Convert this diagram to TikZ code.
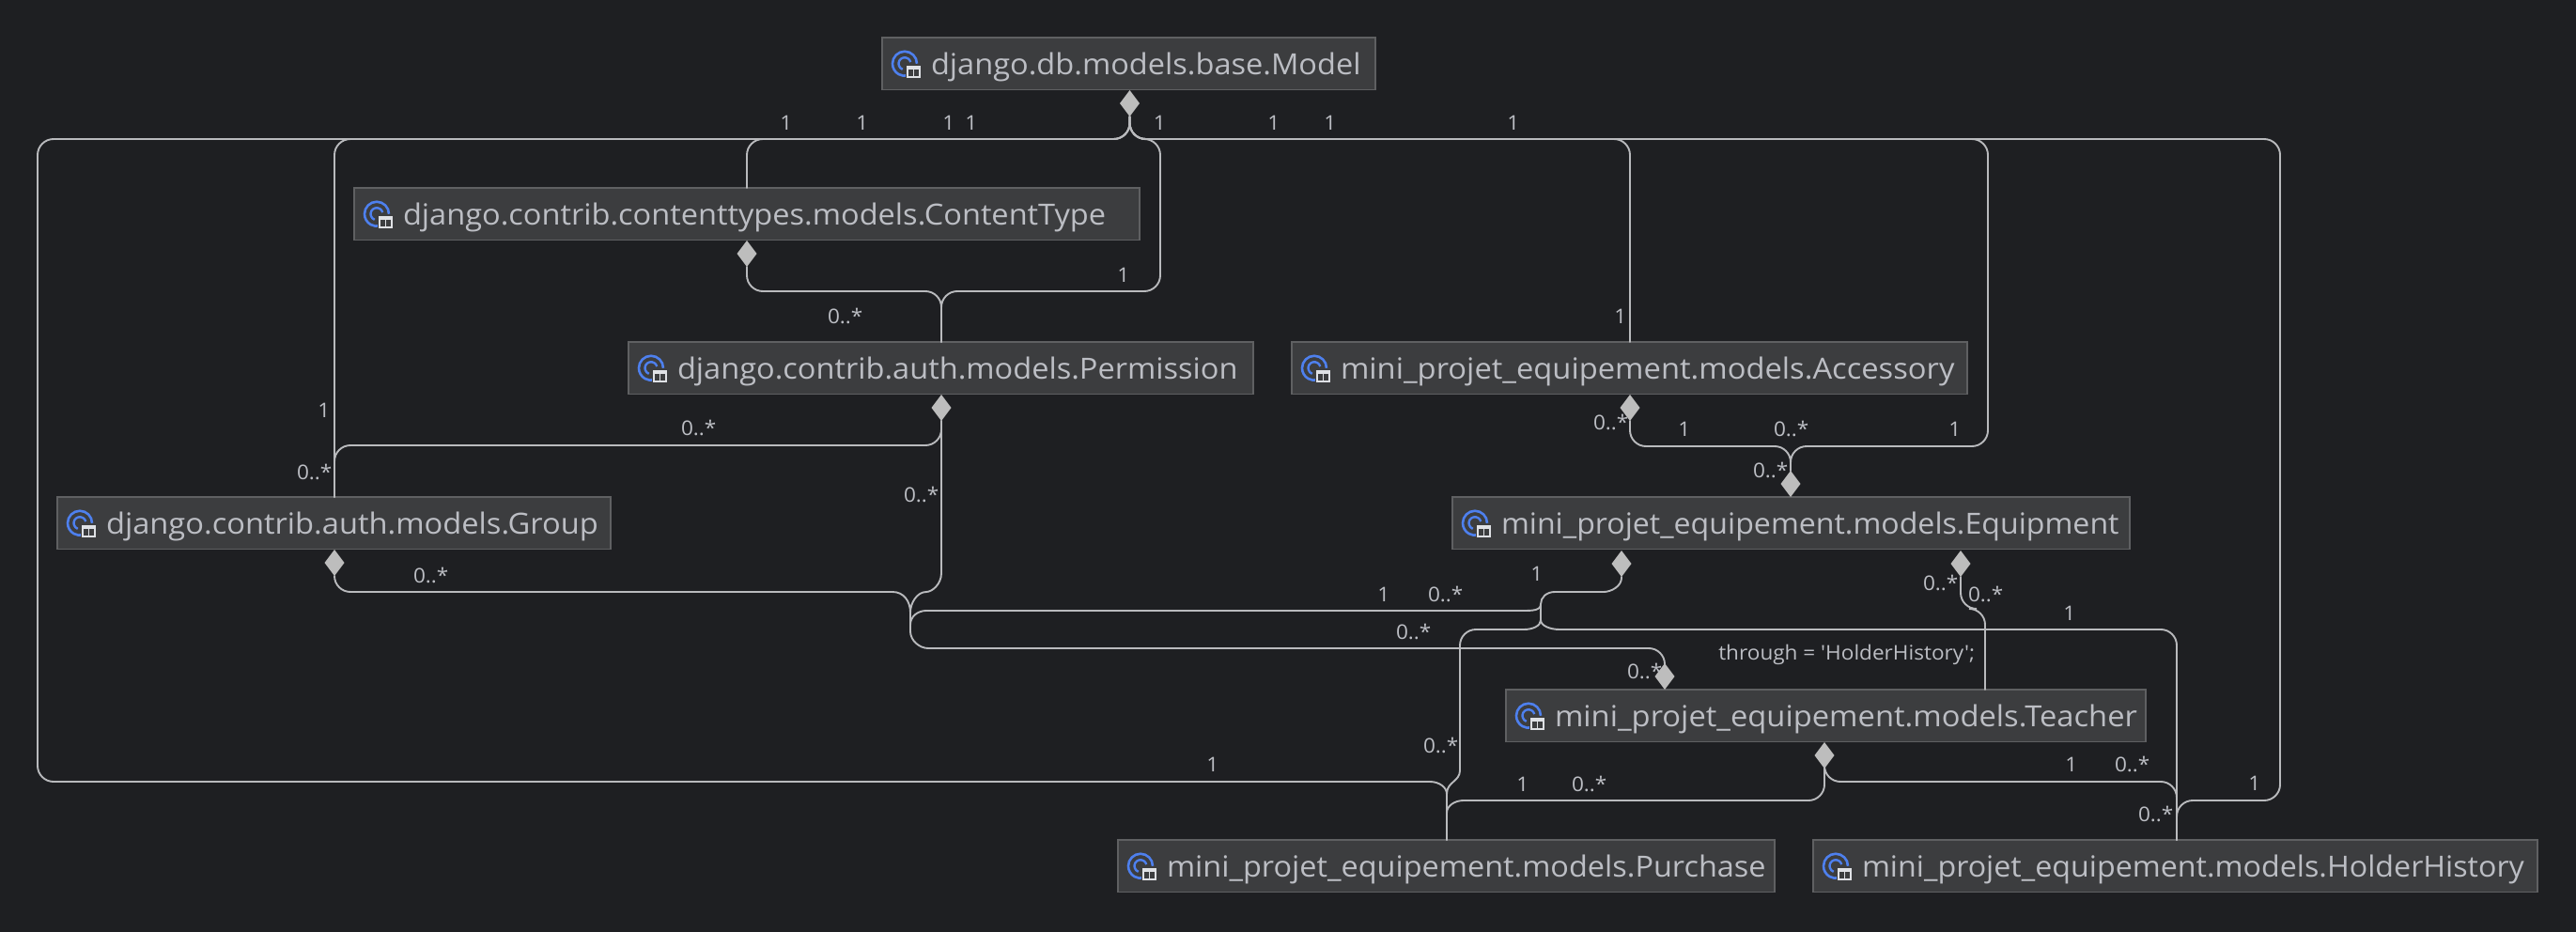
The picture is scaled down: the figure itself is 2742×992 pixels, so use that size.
\documentclass[tikz,border=0pt]{standalone}
\usepackage{fontspec}
\setmainfont{Open Sans}
\newfontfamily\clsfont[FakeStretch=1.05]{Open Sans}
\usetikzlibrary{shapes.geometric}
\definecolor{bgc}{HTML}{1E1F22}
\definecolor{boxc}{HTML}{3C3D3F}
\definecolor{edgec}{HTML}{5F6062}
\definecolor{linec}{HTML}{B9BABD}
\definecolor{txtc}{HTML}{BCBEC4}
\definecolor{diac}{HTML}{BDBDBD}
\definecolor{iconb}{HTML}{4E80EE}
\definecolor{iconw}{HTML}{DFE1E5}
\tikzset{
  cls/.style={draw=edgec,line width=1.5pt,fill=boxc,inner sep=0pt,outer sep=0pt,anchor=north west,text=txtc,minimum height=55.5pt},
  dia/.style={diamond,aspect=0.74,fill=diac,inner sep=0pt,outer sep=0pt,minimum width=21pt,minimum height=28pt},
  wire/.style={draw=linec,line width=1.9pt,line cap=round},
  conn/.style={wire,rounded corners=17pt},
  lbl/.style={text=txtc,inner sep=0pt,xshift=0.7pt,yshift=-0.8pt,font=\clsfont\fontsize{21.5}{25}\selectfont},
  classicon/.pic={
    \draw[iconb,line width=2.6pt] (0:13pt) arc[start angle=0,end angle=285,radius=13pt];
    \draw[iconb,line width=2.4pt] (15:6.5pt) arc[start angle=15,end angle=250,radius=6.5pt];
    \draw[boxc,line width=1.4pt] (1.2pt,-1.2pt) rectangle (17.3pt,-16.3pt);
    \fill[iconw] (2pt,-2pt) rectangle (16.5pt,-15.5pt);
    \fill[boxc] (4pt,-6.5pt) rectangle (8.5pt,-13.5pt);
    \fill[boxc] (10pt,-6.5pt) rectangle (14.5pt,-13.5pt);
  }
}
\newcommand{\cbox}[6]{%
  \node[cls,minimum width=#4 pt] (#1) at (#2,#3) {\makebox[#4 pt][l]{\hspace{52pt}\rule[-14pt]{0pt}{52pt}\clsfont\fontsize{31}{36}\selectfont\scalebox{#6}[1]{#5}}};
  \pic at ([xshift=24pt]#1.west) {classicon};
}
\begin{document}
\begin{tikzpicture}[x=1pt,y=-1pt]
\fill[bgc] (0,0) rectangle (2742,992);
\useasboundingbox (0,0) rectangle (2742,992);

\cbox{model}{939}{40}{525}{django.db.models.base.Model}{1}
\cbox{ctype}{377}{200}{836}{django.contrib.contenttypes.models.ContentType}{1}
\cbox{perm}{669}{364}{665}{django.contrib.auth.models.Permission}{1}
\cbox{access}{1375}{364}{719}{mini\_projet\_equipement.models.Accessory}{1.005}
\cbox{group}{61}{529}{589}{django.contrib.auth.models.Group}{1.003}
\cbox{equip}{1546}{529}{721}{mini\_projet\_equipement.models.Equipment}{0.987}
\cbox{teach}{1603}{734}{681}{mini\_projet\_equipement.models.Teacher}{1.005}
\cbox{purch}{1190}{894}{699}{mini\_projet\_equipement.models.Purchase}{0.997}
\cbox{holder}{1930}{894}{771}{mini\_projet\_equipement.models.HolderHistory}{0.99}

\node[dia] (dModel) at (1202.5,110) {};
\node[dia] (dCtype) at (795,270) {};
\node[dia] (dPerm) at (1002,434) {};
\node[dia] (dAcc) at (1735,434) {};
\node[dia] (dEqT) at (1906,515) {};
\node[dia] (dEqL) at (1726,600) {};
\node[dia] (dEqR) at (2087,600) {};
\node[dia] (dGroup) at (356,599) {};
\node[dia] (dTeachT) at (1772,720) {};
\node[dia] (dTeachB) at (1942,804) {};

\coordinate (mb) at (1202.5,148);
\coordinate (tl) at (40,148);
\coordinate (bl) at (40,832);
\coordinate (pa) at (1522,832);
\coordinate (pk) at (1540,845);
\coordinate (pt) at (1540,894);
\coordinate (gb) at (356,148);
\coordinate (gt) at (356,529);
\coordinate (cb) at (795,148);
\coordinate (ct) at (795,200);
\coordinate (pb) at (1235,148);
\coordinate (pr) at (1235,310);
\coordinate (pm) at (1002,310);
\coordinate (ptop) at (1002,364);
\coordinate (cl) at (795,310);
\coordinate (ab) at (1735,148);
\coordinate (at) at (1735,364);
\coordinate (eb) at (2116,148);
\coordinate (er) at (2116,475);
\coordinate (em) at (1906,475);
\coordinate (al) at (1735,475);
\coordinate (hb) at (2427,148);
\coordinate (hr) at (2427,852);
\coordinate (hj) at (2317,852);
\coordinate (ht) at (2317,894);
\coordinate (gl) at (356,474);
\coordinate (pl) at (1002,474);
\coordinate (gq) at (356,630);
\coordinate (ga) at (950,630);
\coordinate (ja) at (969,652);
\coordinate (pq) at (1002,610);
\coordinate (pw) at (986,630);
\coordinate (jd) at (969,672);
\coordinate (ge) at (988,690);
\coordinate (tc) at (1772,690);
\coordinate (jf) at (969,665);
\coordinate (gm) at (986,650);
\coordinate (ej) at (1620,650);
\coordinate (jb) at (1640,643);
\coordinate (jc) at (1640,660);
\coordinate (eu) at (1655,630);
\coordinate (eq) at (1707,630);
\coordinate (ev) at (1726,615);
\coordinate (el) at (1622,670);
\coordinate (pe) at (1554,670);
\coordinate (pv) at (1554,820);
\coordinate (ex) at (1660,670);
\coordinate (he) at (2317,670);
\coordinate (er1) at (2087,648);
\coordinate (er2) at (2113,648);
\coordinate (tt) at (2113,734);
\coordinate (tbl) at (1942,852);
\coordinate (tpa) at (1558,852);
\coordinate (tpb) at (1540,865);
\coordinate (tbr) at (1942,832);
\coordinate (thj) at (2317,832);

% from Model
\draw[conn] (dModel.south) -- (mb) -- (tl) -- (bl) -- (pa);
\draw[wire] (pa) .. controls +(10,0) and +(0,-7) .. (pk) -- (pt);
\draw[conn] (dModel.south) -- (mb) -- (gb) -- (gt);
\draw[conn] (dModel.south) -- (mb) -- (cb) -- (ct);
\draw[conn] (dModel.south) -- (mb) -- (pb) -- (pr) -- (pm) -- (ptop);
\draw[conn] (dModel.south) -- (mb) -- (ab) -- (at);
\draw[conn] (dModel.south) -- (mb) -- (eb) -- (er) -- (em) -- (dEqT.north);
\draw[conn] (dModel.south) -- (mb) -- (hb) -- (hr) -- (hj) -- (ht);
% other links
\draw[conn] (dCtype.south) -- (cl) -- (pm) -- (ptop);
\draw[conn] (dPerm.south) -- (pl) -- (gl) -- (gt);
\draw[conn] (dAcc.south) -- (al) -- (em) -- (dEqT.north);
\draw[conn] (dGroup.south) -- (gq) -- (ga);
\draw[wire] (ga) .. controls +(12,0) and +(0,-12) .. (ja) -- (jd) .. controls +(0,10) and +(-9,0) .. (ge);
\draw[conn] (ge) -- (tc) -- (dTeachT.north);
\draw[wire] (dPerm.south) -- (pq) .. controls +(0,12) and +(6,0) .. (pw) .. controls +(-10,0) and +(0,-10) .. (ja);
\draw[wire] (ja) -- (jf) .. controls +(0,-9) and +(-9,0) .. (gm) -- (ej) .. controls +(11,0) and +(0,7) .. (jb);
\draw[wire] (dEqL.south) -- (ev) .. controls +(0,9) and +(8,0) .. (eq) -- (eu) .. controls +(-9,0) and +(0,-7) .. (jb) -- (jc) .. controls +(0,6) and +(10,0) .. (el);
\draw[conn] (el) -- (pe) -- (pv);
\draw[wire] (pv) .. controls +(0,12) and +(0,-13) .. (pk);
\draw[wire] (jc) .. controls +(0,6) and +(-10,0) .. (ex);
\draw[conn] (ex) -- (he) -- (ht);
\draw[conn] (dEqR.south) -- (er1) -- (er2) -- (tt);
\draw[conn] (dTeachB.south) -- (tbl) -- (tpa);
\draw[wire] (tpa) .. controls +(-10,0) and +(0,-7) .. (tpb) -- (pt);
\draw[conn] (dTeachB.south) -- (tbr) -- (thj) -- (ht);

\node[lbl] (a1) at (836,130) {1};
\node[lbl] (a2) at (917,130) {1};
\node[lbl] (a3) at (1009,130) {1};
\node[lbl] (a4) at (1033,130) {1};
\node[lbl] (a5) at (1233.5,130) {1};
\node[lbl] (a6) at (1355,130) {1};
\node[lbl] (a7) at (1415,130) {1};
\node[lbl] (a8) at (1610,130) {1};
\node[lbl] (b1) at (1195,292) {1};
\node[lbl] (b2) at (899,336) {0..*};
\node[lbl] (b3) at (1724,336) {1};
\node[lbl] (b4) at (344,436) {1};
\node[lbl] (b5) at (334,502) {0..*};
\node[lbl] (b6) at (743,455) {0..*};
\node[lbl] (b7) at (980,526) {0..*};
\node[lbl] (b8) at (458,612) {0..*};
\node[lbl] (c1) at (1714,449) {0..*};
\node[lbl] (c2) at (1792,456) {1};
\node[lbl] (c3) at (1906,456) {0..*};
\node[lbl] (c4) at (2080,456) {1};
\node[lbl] (c5) at (1884,500) {0..*};
\node[lbl] (d1) at (1635,610) {1};
\node[lbl] (d2) at (1472,632) {1};
\node[lbl] (d3) at (1538,632) {0..*};
\node[lbl] (d4) at (1504,672) {0..*};
\node[lbl] (d5) at (1750,714) {0..*};
\node[lbl] (d6) at (1533,793) {0..*};
\node[lbl] (d7) at (1290,813) {1};
\node[lbl] (d8) at (1620,834) {1};
\node[lbl] (d9) at (1691,834) {0..*};
\node[lbl] (e1) at (2065,620) {0..*};
\node[lbl] (e2) at (2113,632) {0..*};
\node[lbl] (e3) at (2202,652) {1};
\node[lbl] (e4) at (1965,696) {through = 'HolderHistory';};
\node[lbl] (e5) at (2204,813) {1};
\node[lbl] (e6) at (2269,813) {0..*};
\node[lbl] (e7) at (2294,866) {0..*};
\node[lbl] (e8) at (2399,833) {1};
\end{tikzpicture}
\end{document}
